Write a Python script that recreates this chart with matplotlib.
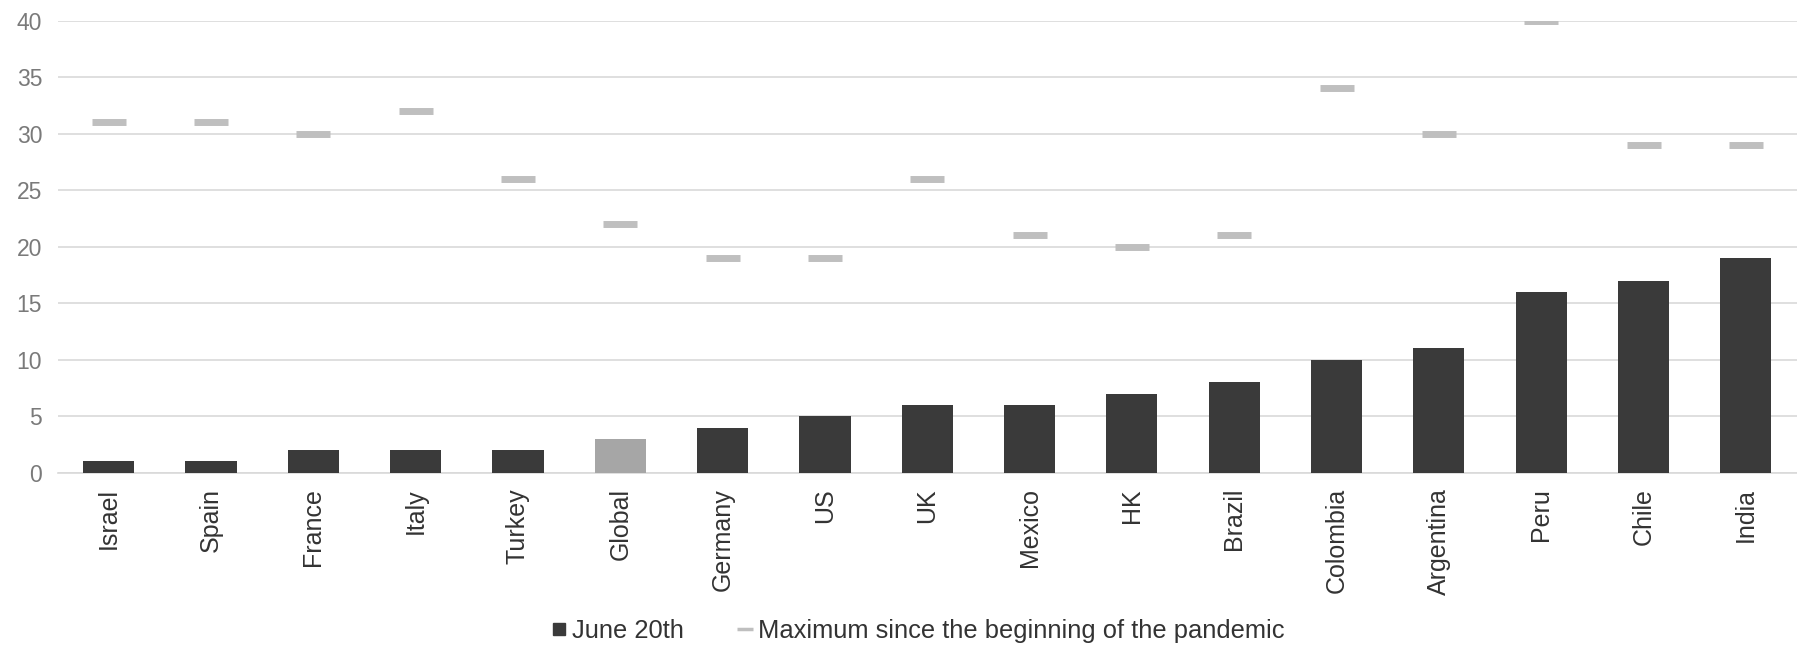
import numpy as np
import matplotlib
matplotlib.use("Agg")
import matplotlib.pyplot as plt
from matplotlib.lines import Line2D

countries = ['Israel', 'Spain', 'France', 'Italy', 'Turkey', 'Global', 'Germany', 'US', 'UK',
             'Mexico', 'HK', 'Brazil', 'Colombia', 'Argentina', 'Peru', 'Chile', 'India']
june_20th = [1, 1, 2, 2, 2, 3, 4, 5, 6, 6, 7, 8, 10, 11, 16, 17, 19]
max_since_start = [31, 31, 30, 32, 26, 22, 19, 19, 26, 21, 20, 21, 34, 30, 40, 29, 29]

plt.rcParams['font.family'] = ['Liberation Sans', 'DejaVu Sans']

fig = plt.figure(figsize=(17.97, 6.45), dpi=100)
ax = fig.add_axes([0.032, 0.267, 0.968, 0.701])

x = np.arange(len(countries))
bar_colors = ['#a6a6a6' if c == 'Global' else '#3a3a3a' for c in countries]
ax.bar(x, june_20th, width=0.5, color=bar_colors, zorder=3)
ax.plot(x, max_since_start, linestyle='none', marker='_', markersize=24,
        markeredgewidth=5, color='#bfbfbf', zorder=3)

ax.set_xlim(-0.5, len(countries) - 0.5)
ax.set_ylim(0, 40)
ax.set_yticks(np.arange(0, 41, 5))
ax.yaxis.grid(True, color='#d9d9d9', linewidth=1.2, zorder=0)
ax.set_axisbelow(True)

for side in ['top', 'right', 'left']:
    ax.spines[side].set_visible(False)
ax.spines['bottom'].set_color('#d9d9d9')
ax.spines['bottom'].set_linewidth(1.2)

ax.set_xticks(x)
ax.set_xticklabels(countries, rotation=90, fontsize=18, color='#333333')
ax.tick_params(axis='x', length=0, pad=11)
ax.tick_params(axis='y', length=0, pad=11, labelsize=16.5, labelcolor='#7a7a7a')

handles = [
    Line2D([], [], linestyle='none', marker='s', markersize=9, color='#3a3a3a'),
    Line2D([], [], linestyle='none', marker='_', markersize=11, markeredgewidth=2.5, color='#bfbfbf'),
]
fig.legend(handles, ['June 20th', 'Maximum since the beginning of the pandemic'],
           loc='center', bbox_to_anchor=(0.51, 0.022), ncol=2, frameon=False,
           fontsize=18.4, handletextpad=0.1, columnspacing=2.0, handlelength=0.8,
           labelcolor='#333333', borderpad=0.1)

fig.savefig('out.png', dpi=100)
